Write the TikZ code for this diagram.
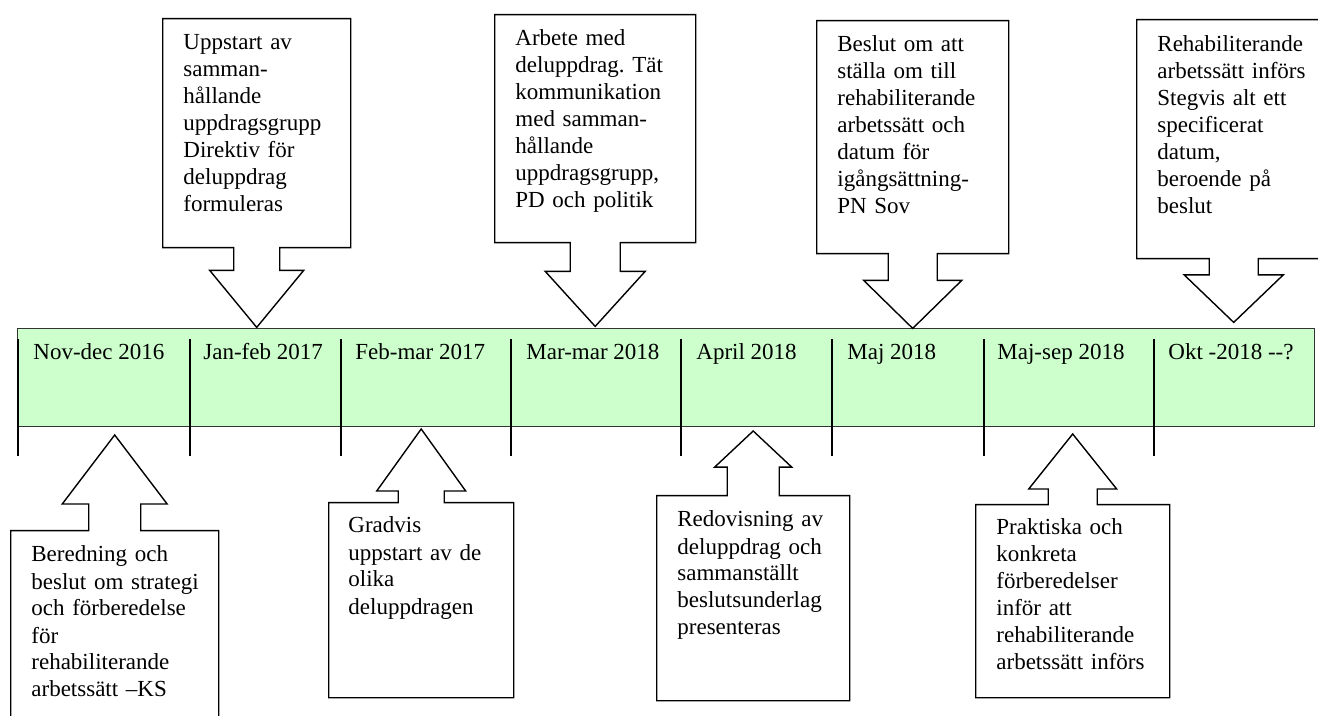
\documentclass[tikz,border=0pt]{standalone}
\usepackage{fontspec}
\setmainfont{Liberation Serif}
\frenchspacing
\usetikzlibrary{shapes.arrows}
\definecolor{bargreen}{HTML}{CCFFCC}
\tikzset{
    timeline/.style={x=0.5pt,y=-0.5pt,font=\fontsize{11.5}{13.5}\selectfont},
    bar/.style={draw=black!80,fill=bargreen,line width=0.6pt,inner sep=0pt,
        minimum width=648.5pt,minimum height=49pt,anchor=north west},
    tick/.style={line width=1pt},
    period/.style={anchor=base west,inner sep=0pt},
    callout/.style={arrow box,draw,line width=0.7pt,inner sep=0pt,anchor=north west,
        arrow box head indent=0pt},
    downcall/.style n args={4}{callout,arrow box arrows={south:#1},
        arrow box shaft width=#2,arrow box head extend=#3,arrow box tip angle=#4},
    upcall/.style n args={4}{callout,arrow box arrows={north:#1},
        arrow box shaft width=#2,arrow box head extend=#3,arrow box tip angle=#4},
    boxtext/.style={anchor=base west,inner sep=0pt,text width=95pt,align=left}
}
\begin{document}
\begin{tikzpicture}[timeline]
    \useasboundingbox (0,0) rectangle (1318,716);
    % tidslinje
    \node[bar] (bar) at (17,328) {};
    \draw[tick] (18,339) -- (18,456);
    \draw[tick] (190,339) -- (190,456);
    \draw[tick] (341,339) -- (341,456);
    \draw[tick] (511,339) -- (511,456);
    \draw[tick] (681,339) -- (681,456);
    \draw[tick] (832,339) -- (832,456);
    \draw[tick] (984,339) -- (984,456);
    \draw[tick] (1154,339) -- (1154,456);
    \node[period] (nov) at (33,360) {Nov-dec 2016};
    \node[period] (jan) at (203,360) {Jan-feb 2017};
    \node[period] (feb) at (355,360) {Feb-mar 2017};
    \node[period] (mar) at (526,360) {Mar-mar 2018};
    \node[period] (apr) at (696,360) {April 2018};
    \node[period] (maj) at (847,360) {Maj 2018};
    \node[period] (majsep) at (997,360) {Maj-sep 2018};
    \node[period] (okt) at (1168,360) {Okt -2018 -{}-?};
    % ovanfor
    \node[downcall={39.5pt}{23pt}{12pt}{79},minimum width=94pt,minimum height=114.5pt] (uppstart) at (162,18) {};
    \node[boxtext] (uppstarttext) at (183,50) {Uppstart av\\samman-\\hållande\\uppdragsgrupp\\Direktiv för\\deluppdrag\\formuleras};
    \node[downcall={41.5pt}{25pt}{12.5pt}{84.5},minimum width=100.5pt,minimum height=114pt] (arbete) at (494,14) {};
    \node[boxtext] (arbetetext) at (515,46) {Arbete med\\deluppdrag. Tät\\kommunikation\\med samman-\\hållande\\uppdragsgrupp,\\PD och politik};
    \node[downcall={37pt}{24.5pt}{12.25pt}{91.2},minimum width=96pt,minimum height=116.5pt] (beslut) at (816,20) {};
    \node[boxtext] (beslutext) at (837,52) {Beslut om att\\ställa om till\\rehabiliterande\\arbetssätt och\\datum för\\igångsättning-\\PN Sov};
    \node[downcall={31.5pt}{24.5pt}{12.5pt}{92.4},minimum width=97pt,minimum height=119.5pt] (infors) at (1136,19) {};
    \node[boxtext] (inforstext) at (1157,52) {Rehabiliterande\\arbetssätt införs\\Stegvis alt ett\\specificerat\\datum,\\beroende på\\beslut};
    % nedanfor
    \node[upcall={47.5pt}{26pt}{13.25pt}{74.5},minimum width=104pt,minimum height=120pt] (beredning) at (10,530) {};
    \node[boxtext] (beredningtext) at (31,562) {Beredning och\\beslut om strategi\\och förberedelse\\för\\rehabiliterande\\arbetssätt –KS};
    \node[upcall={36.5pt}{23pt}{10.75pt}{71.3},minimum width=92.5pt,minimum height=97.5pt] (gradvis) at (328,502) {};
    \node[boxtext] (gradvistext) at (348,533) {Gradvis\\uppstart av de\\olika\\deluppdragen};
    \node[upcall={32pt}{26pt}{6.25pt}{93.7},minimum width=96.5pt,minimum height=102.5pt] (redovisning) at (656,495) {};
    \node[boxtext] (redovisningtext) at (677,527) {Redovisning av\\deluppdrag och\\sammanställt\\beslutsunderlag\\presenteras};
    \node[upcall={35pt}{24.5pt}{9.75pt}{77.3},minimum width=97pt,minimum height=96.5pt] (praktiska) at (975,504) {};
    \node[boxtext] (praktiskatext) at (996,535) {Praktiska och\\konkreta\\förberedelser\\inför att\\rehabiliterande\\arbetssätt införs};
\end{tikzpicture}
\end{document}
